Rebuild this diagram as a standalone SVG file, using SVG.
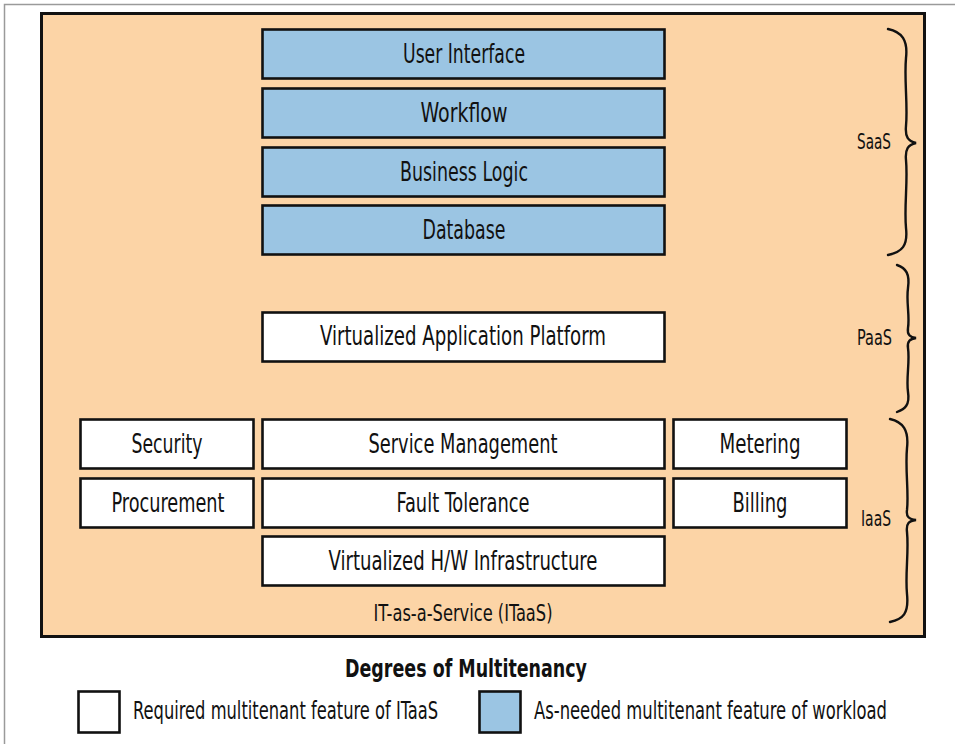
<svg xmlns="http://www.w3.org/2000/svg" width="955" height="744" viewBox="0 0 955 744">
<style>
.box{stroke:#111;stroke-width:2.6;}
.w{fill:#ffffff;}
.b{fill:#9bc5e3;}
text{font-family:"Liberation Sans Narrow","DejaVu Sans Condensed","Liberation Sans",sans-serif;fill:#111;}
.lbl{font-size:26px;text-anchor:middle;}
.side{font-size:21px;}
.brace{fill:none;stroke:#111;stroke-width:2.4;stroke-linecap:round;}
.frame{stroke:#9a9a9a;stroke-width:1.5;fill:none;}
</style>
<path class="frame" d="M4.5,744 L4.5,4.5 L955,4.5"/>
<g id="itaas">
<rect x="41.5" y="13.5" width="883" height="623" fill="#fcd4a6" stroke="#111" stroke-width="3"/>
<text x="463" y="621" font-size="23px" text-anchor="middle" textLength="179" lengthAdjust="spacingAndGlyphs">IT-as-a-Service (ITaaS)</text>
</g>
<g id="user-interface"><rect class="box b" x="262.5" y="29.5" width="402" height="49"/><text class="lbl" x="464" y="63" textLength="122" lengthAdjust="spacingAndGlyphs">User Interface</text></g>
<g id="workflow"><rect class="box b" x="262.5" y="88.5" width="402" height="49"/><text class="lbl" x="464" y="122" textLength="87" lengthAdjust="spacingAndGlyphs">Workflow</text></g>
<g id="business-logic"><rect class="box b" x="262.5" y="147.5" width="402" height="49"/><text class="lbl" x="464" y="181" textLength="128" lengthAdjust="spacingAndGlyphs">Business Logic</text></g>
<g id="database"><rect class="box b" x="262.5" y="205.5" width="402" height="49"/><text class="lbl" x="464" y="239" textLength="83" lengthAdjust="spacingAndGlyphs">Database</text></g>
<g id="vap"><rect class="box w" x="262.5" y="312.5" width="402" height="49"/><text class="lbl" x="463" y="345" textLength="286" lengthAdjust="spacingAndGlyphs">Virtualized Application Platform</text></g>
<g id="security"><rect class="box w" x="80.5" y="419.5" width="173" height="49"/><text class="lbl" x="167" y="453" textLength="71" lengthAdjust="spacingAndGlyphs">Security</text></g>
<g id="service-management"><rect class="box w" x="262.5" y="419.5" width="402" height="49"/><text class="lbl" x="463" y="453" textLength="189" lengthAdjust="spacingAndGlyphs">Service Management</text></g>
<g id="metering"><rect class="box w" x="673.5" y="419.5" width="173" height="49"/><text class="lbl" x="760" y="453" textLength="81" lengthAdjust="spacingAndGlyphs">Metering</text></g>
<g id="procurement"><rect class="box w" x="80.5" y="478.5" width="173" height="49"/><text class="lbl" x="168" y="512" textLength="113" lengthAdjust="spacingAndGlyphs">Procurement</text></g>
<g id="fault-tolerance"><rect class="box w" x="262.5" y="478.5" width="402" height="49"/><text class="lbl" x="463" y="512" textLength="133" lengthAdjust="spacingAndGlyphs">Fault Tolerance</text></g>
<g id="billing"><rect class="box w" x="673.5" y="478.5" width="173" height="49"/><text class="lbl" x="760" y="512" textLength="55" lengthAdjust="spacingAndGlyphs">Billing</text></g>
<g id="vhw"><rect class="box w" x="262.5" y="536.5" width="402" height="49"/><text class="lbl" x="463" y="570" textLength="269" lengthAdjust="spacingAndGlyphs">Virtualized H/W Infrastructure</text></g>
<g id="connectors">
<path class="brace" d="M888,29 C902,32 908,40 906,58 C904,80 908,105 906,126 C905,137 908,141 916,143 C908,145 905,149 906,160 C908,182 904,206 906,228 C908,246 902,252 888,255"/>
<path class="brace" d="M897,265 C906,268 910,274 908,288 C906,302 910,316 908,328 C907,335 910,337 916,338 C910,339 907,341 908,348 C910,362 906,378 908,392 C910,405 905,409 897,412"/>
<path class="brace" d="M890,419 C903,422 909,430 907,448 C905,470 909,492 907,510 C906,517 909,519 916,520 C909,521 906,523 907,532 C909,552 905,574 907,594 C909,614 903,619 890,622"/>
</g>
<g id="saas-label"><text class="side" x="857" y="149" textLength="34" lengthAdjust="spacingAndGlyphs">SaaS</text></g>
<g id="paas-label"><text class="side" x="857" y="345" textLength="35" lengthAdjust="spacingAndGlyphs">PaaS</text></g>
<g id="iaas-label"><text class="side" x="861" y="526" textLength="30" lengthAdjust="spacingAndGlyphs">IaaS</text></g>
<g id="legend">
<text x="466" y="677" font-size="25px" font-weight="bold" text-anchor="middle" textLength="242" lengthAdjust="spacingAndGlyphs">Degrees of Multitenancy</text>
<rect class="box w" x="78.5" y="691.5" width="41" height="41"/>
<text x="133" y="719" font-size="24px" textLength="305" lengthAdjust="spacingAndGlyphs">Required multitenant feature of ITaaS</text>
<rect class="box b" x="479.5" y="691.5" width="41" height="41"/>
<text x="534" y="719" font-size="24px" textLength="353" lengthAdjust="spacingAndGlyphs">As-needed multitenant feature of workload</text>
</g>
</svg>
